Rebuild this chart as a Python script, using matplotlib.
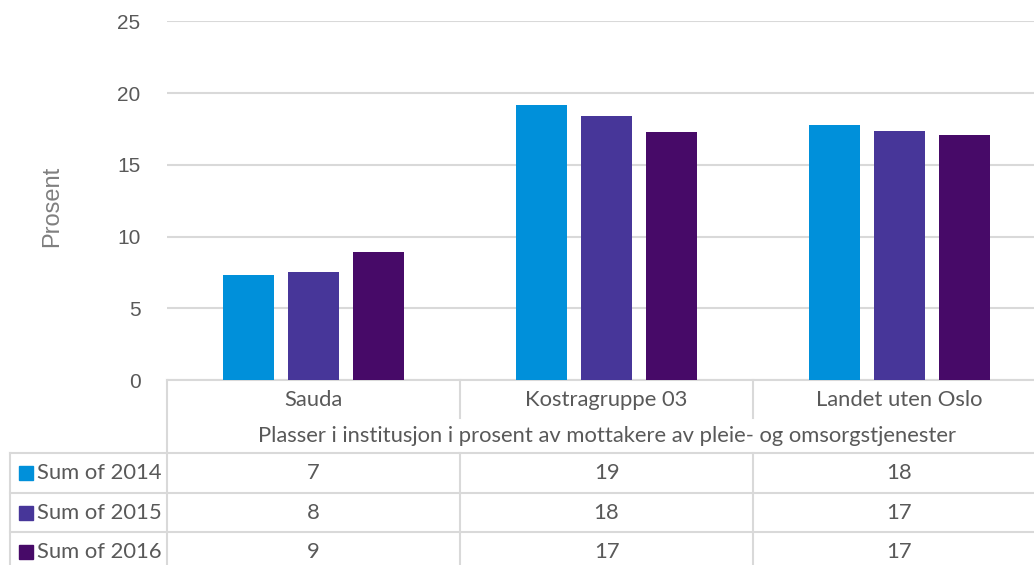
import matplotlib
matplotlib.use("Agg")
import matplotlib.pyplot as plt
from matplotlib.lines import Line2D
from matplotlib.patches import Rectangle
import numpy as np

categories = ["Sauda", "Kostragruppe 03", "Landet uten Oslo"]
series_names = ["Sum of 2014", "Sum of 2015", "Sum of 2016"]
values_2014 = [7.31, 19.17, 17.8]
values_2015 = [7.52, 18.4, 17.36]
values_2016 = [8.9, 17.27, 17.08]
colors = ["#0090DA", "#473699", "#470A68"]
table_title = "Plasser i institusjon i prosent av mottakere av pleie- og omsorgstjenester"
y_label = "Prosent"
y_ticks = [0, 5, 10, 15, 20, 25]

series = [values_2014, values_2015, values_2016]

W, H = 1034, 565
fig = plt.figure(figsize=(W / 100, H / 100), dpi=100)
AX_L, AX_R, AX_T, AX_B = 167, 1046, 21.3, 380
ax = fig.add_axes([AX_L / W, 1 - AX_B / H, (AX_R - AX_L) / W, (AX_B - AX_T) / H])

grid_c = "#d9d9d9"
text_c = "#595959"

x = np.arange(len(categories))
bw = 0.174
off = 0.222
for i, (vals, c) in enumerate(zip(series, colors)):
    ax.bar(x + (i - 1) * off, vals, width=bw, color=c, zorder=3)

ax.set_xlim(-0.5, len(categories) - 0.5)
ax.set_ylim(0, 25)
ax.set_yticks(y_ticks)
ax.set_yticklabels([str(t) for t in y_ticks], fontsize=15, color=text_c,
                   family="Liberation Sans")
ax.tick_params(axis="y", length=0, pad=28)
for lbl in ax.get_yticklabels():
    pass
ax.set_xticks([])
for s in ["top", "right", "left"]:
    ax.spines[s].set_visible(False)
ax.spines["bottom"].set_color(grid_c)
ax.spines["bottom"].set_linewidth(1.5)
ax.yaxis.grid(True, color=grid_c, linewidth=1.5, zorder=0)
ax.set_axisbelow(True)
ax.tick_params(axis="y", pad=29 - 10)

# y label
fig.text(52 / W, 1 - 206 / H, y_label, rotation=90, ha="center", va="center",
         fontsize=17, color="#7f7f7f", family="Liberation Sans")

def xa(px):
    return (px - AX_L) / (AX_R - AX_L)

def ya(py):
    return (AX_B - py) / (AX_B - AX_T)

def hline(x0, x1, y):
    ax.add_line(Line2D([xa(x0), xa(x1)], [ya(y), ya(y)], transform=ax.transAxes,
                       color=grid_c, lw=1.5, clip_on=False))

def vline(xp, y0, y1):
    ax.add_line(Line2D([xa(xp), xa(xp)], [ya(y0), ya(y1)], transform=ax.transAxes,
                       color=grid_c, lw=1.5, clip_on=False))

tfont = dict(family="Lato", fontsize=15.8, color=text_c)
cell_w = (AX_R - AX_L) / len(categories)
dividers = [AX_L + i * cell_w for i in range(len(categories))]

# category row
vline(AX_L, 380, 565)
for d in dividers[1:]:
    vline(d, 380, 418)
for i, cat in enumerate(categories):
    cx = AX_L + (i + 0.5) * cell_w
    ax.text(xa(cx), ya(400), cat, transform=ax.transAxes, ha="center", va="center",
            clip_on=False, **tfont)
# title row
ax.text(xa((AX_L + AX_R) / 2), ya(436), table_title, transform=ax.transAxes,
        ha="center", va="center", clip_on=False, **tfont)

# data rows
row_tops = [453, 493, 532]
row_h = 39.5
for y in row_tops:
    hline(10, AX_R, y)
vline(10, 453, 565)
for d in dividers[1:]:
    vline(d, 453, 565)

for r, (name, vals, c) in enumerate(zip(series_names, series, colors)):
    cy = row_tops[r] + row_h / 2
    ax.add_patch(Rectangle((xa(19), ya(cy + 7)), xa(33) - xa(19), ya(cy - 7) - ya(cy + 7),
                           transform=ax.transAxes, color=c, clip_on=False))
    ax.text(xa(37), ya(cy), name, transform=ax.transAxes, ha="left", va="center",
            clip_on=False, **tfont)
    for i, v in enumerate(vals):
        cx = AX_L + (i + 0.5) * cell_w
        ax.text(xa(cx), ya(cy), f"{v:.0f}", transform=ax.transAxes, ha="center",
                va="center", clip_on=False, **tfont)

fig.savefig("out.png", dpi=100)
